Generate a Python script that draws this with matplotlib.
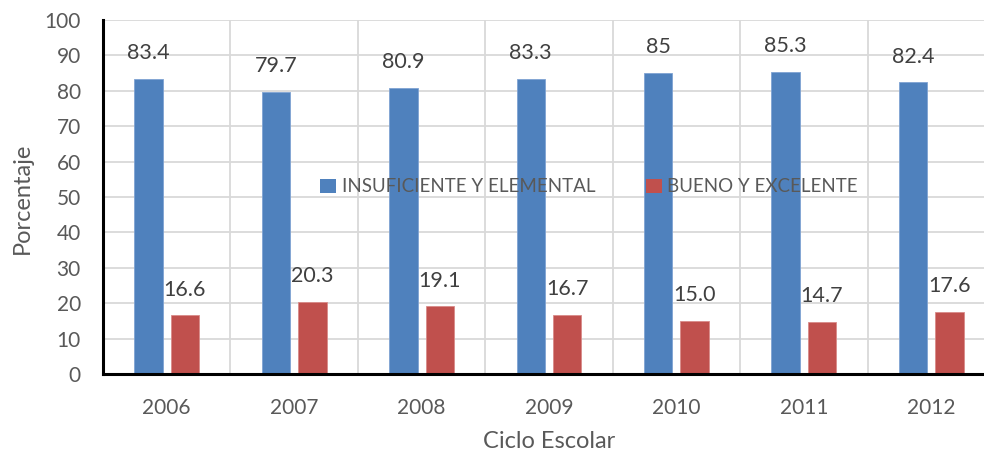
import matplotlib
matplotlib.use("Agg")
import matplotlib.pyplot as plt
from matplotlib.patches import Patch
import numpy as np

years = ["2006", "2007", "2008", "2009", "2010", "2011", "2012"]
insuficiente = [83.4, 79.7, 80.9, 83.3, 85, 85.3, 82.4]
insuficiente_labels = ["83.4", "79.7", "80.9", "83.3", "85", "85.3", "82.4"]
bueno = [16.6, 20.3, 19.1, 16.7, 15.0, 14.7, 17.6]
bueno_labels = ["16.6", "20.3", "19.1", "16.7", "15.0", "14.7", "17.6"]
series_names = ["INSUFICIENTE Y ELEMENTAL", "BUENO Y EXCELENTE"]
yticks = list(range(0, 101, 10))

BLUE = "#4F81BD"
RED = "#C0504D"
TXT = "#595959"
LBL = "#404040"

plt.rcParams['font.family'] = ['Lato', 'DejaVu Sans']

W, H = 984, 453
fig = plt.figure(figsize=(W / 100, H / 100), dpi=100)
left, right, top, bottom = 103, 995, 20, 374
ax = fig.add_axes([left / W, 1 - bottom / H, (right - left) / W, (bottom - top) / H])

x = np.arange(len(years))
bw = 0.223
off = 0.143
ax.bar(x - off, insuficiente, bw, color=BLUE, edgecolor="#7FA3D3", linewidth=0.6, zorder=3)
ax.bar(x + off, bueno, bw, color=RED, edgecolor="#D98B89", linewidth=0.6, zorder=3)

for xi, v, s in zip(x, insuficiente, insuficiente_labels):
    ax.annotate(s, (xi - off, v), xytext=(0, 18.5), textcoords="offset points",
                ha="center", va="center", fontsize=15.5, color=LBL)
for xi, v, s in zip(x, bueno, bueno_labels):
    ax.annotate(s, (xi + off, v), xytext=(0, 18.5), textcoords="offset points",
                ha="center", va="center", fontsize=15.5, color=LBL)

ax.set_xlim(-0.5, len(years) - 0.5)
ax.set_ylim(0, 100)
ax.set_yticks(yticks)
ax.set_yticklabels([str(t) for t in yticks])
ax.set_xticks(x)
ax.set_xticklabels(years)
ax.set_xticks(np.arange(-0.5, len(years) + 0.5, 1), minor=True)
ax.tick_params(axis="both", which="both", length=0, labelsize=15, labelcolor=TXT)
ax.tick_params(axis="y", pad=16)
ax.tick_params(axis="x", pad=17)

ax.grid(axis="y", which="major", color="#D9D9D9", linewidth=1.3, zorder=0)
ax.grid(axis="x", which="minor", color="#D9D9D9", linewidth=1.3, zorder=0)
ax.grid(axis="x", which="major", visible=False)
ax.set_axisbelow(True)

for s in ["top", "right"]:
    ax.spines[s].set_visible(False)
for s in ["left", "bottom"]:
    ax.spines[s].set_color("black")
    ax.spines[s].set_linewidth(2.2)
    ax.spines[s].set_zorder(4)

fig.text(22 / W, 1 - 198 / H, "Porcentaje", rotation=90, ha="center", va="center",
         fontsize=17, color=TXT)
fig.text(549 / W, 1 - 441 / H, "Ciclo Escolar", ha="center", va="center",
         fontsize=17, color=TXT)

handles = [Patch(facecolor=BLUE), Patch(facecolor=RED)]
leg = ax.legend(handles, series_names, loc="center left", ncol=2, frameon=False,
                bbox_to_anchor=(320 / W, 1 - 187 / H), bbox_transform=fig.transFigure,
                fontsize=13.5, handlelength=0.85, handleheight=0.85, handletextpad=0.3,
                columnspacing=2.7, borderaxespad=0, borderpad=0)
for t in leg.get_texts():
    t.set_color(TXT)
leg.set_zorder(5)

fig.savefig("out.png", dpi=100)
